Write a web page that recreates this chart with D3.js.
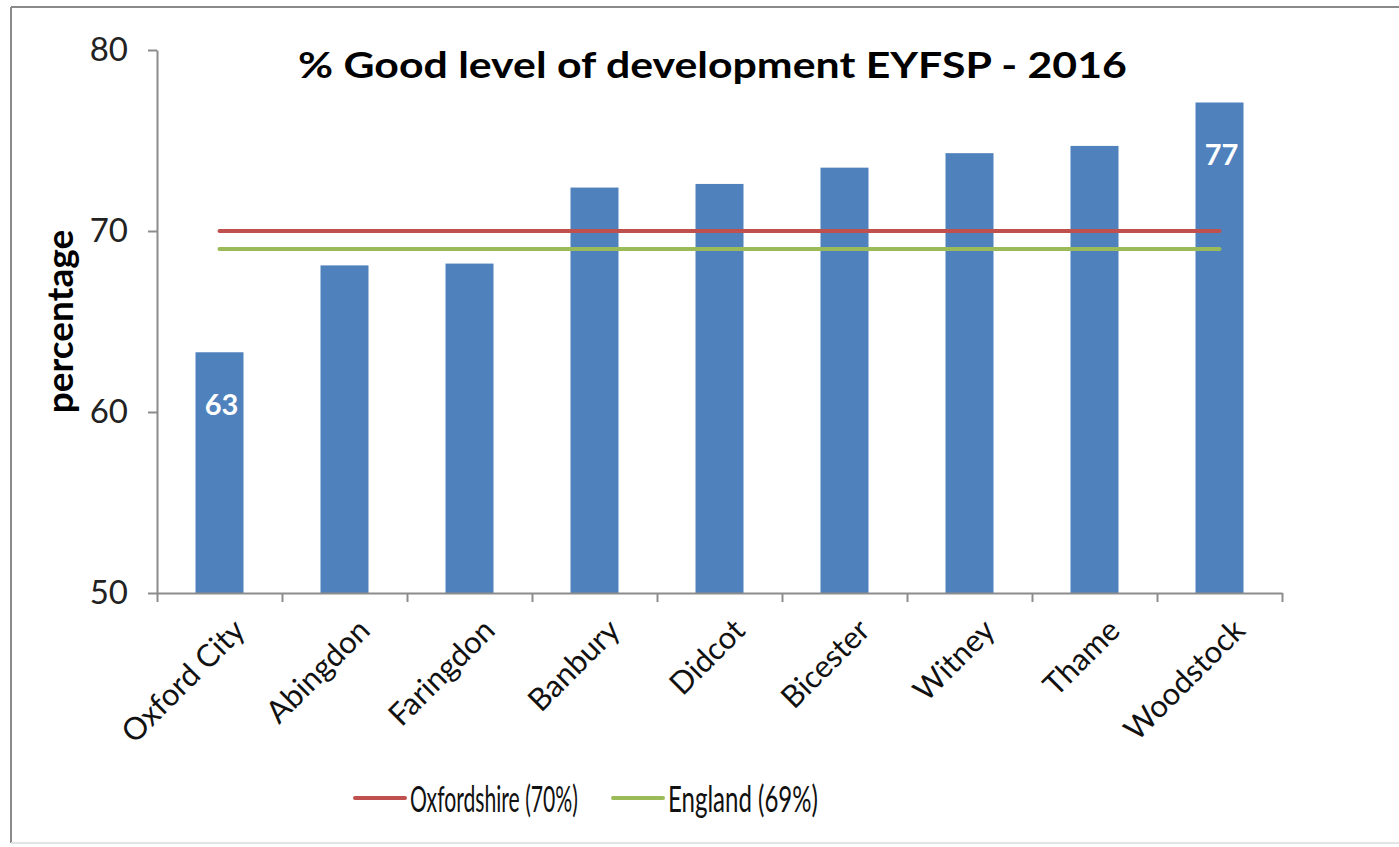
<!DOCTYPE html>
<html>
<head>
<meta charset="utf-8">
<script src="https://cdn.jsdelivr.net/npm/d3@7"></script>
<style>
  body { margin: 0; background: #fff; }
  svg text { font-family: Lato, "Open Sans", sans-serif; }
</style>
</head>
<body>
<div id="chart"></div>
<script>
// data
var towns = ["Oxford City", "Abingdon", "Faringdon", "Banbury", "Didcot", "Bicester", "Witney", "Thame", "Woodstock"]
var gld = [63.3, 68.1, 68.2, 72.4, 72.6, 73.5, 74.3, 74.7, 77.1]
var labelledTowns = ["Oxford City", "Woodstock"]

var refNames = ["Oxfordshire (70%)", "England (69%)"]
var refValues = [70, 69]
var refColors = ["#C0504D", "#9BBB59"]

var yTicks = [50, 60, 70, 80]
var title = "% Good level of development EYFSP - 2016"

// squeeze a text sideways so it spans the given width (the picture's fonts are narrow)
var squeeze = function(sel, x, y, width)
{
    sel.each(function()
    {
        var w = this.getComputedTextLength()
        d3.select(this).attr("transform", "translate(" + x + "," + y + ") scale(" + (width / w) + ",1)")
    })
}

var setup = function()
{
    var screen = {width: 1399, height: 847}
    var plot = {left: 157, right: 1282, top: 50, bottom: 593}

    var svg = d3.select("#chart")
    .append("svg")
    .attr("width", screen.width)
    .attr("height", screen.height)

    // outer frame
    svg.append("line").attr("x1", 11).attr("x2", screen.width).attr("y1", 7).attr("y2", 7)
    .attr("stroke", "#8a8a8a").attr("stroke-width", 2)
    svg.append("line").attr("x1", 11).attr("x2", 11).attr("y1", 7).attr("y2", 843)
    .attr("stroke", "#8a8a8a").attr("stroke-width", 2)
    svg.append("line").attr("x1", 11).attr("x2", screen.width).attr("y1", 843).attr("y2", 843)
    .attr("stroke", "#e4e4e4").attr("stroke-width", 2)

    //scales
    var xScale = d3.scaleBand()
    .domain(towns)
    .range([plot.left, plot.right])
    .paddingInner(0.616)
    .paddingOuter(0.308)

    var yScale = d3.scaleLinear()
    .domain([50, 80])
    .range([plot.bottom, plot.top])

    // bars
    svg.append("g")
    .selectAll("rect")
    .data(towns)
    .enter()
    .append("rect")
    .attr("x", function(d) { return xScale(d) })
    .attr("width", xScale.bandwidth())
    .attr("y", function(d, i) { return yScale(gld[i]) })
    .attr("height", function(d, i) { return yScale(50) - yScale(gld[i]) })
    .attr("fill", "#4F81BD")

    // labels on min and max bars
    svg.append("g")
    .selectAll("text")
    .data(towns.filter(function(d) { return labelledTowns.indexOf(d) >= 0 }))
    .enter()
    .append("text")
    .attr("x", function(d) { return xScale(d) + xScale.bandwidth() / 2 + 2 })
    .attr("y", function(d) { return yScale(gld[towns.indexOf(d)]) + 63 })
    .attr("text-anchor", "middle")
    .attr("fill", "#fff")
    .style("font-weight", "bold")
    .style("font-size", "29px")
    .text(function(d) { return d3.format(".0f")(gld[towns.indexOf(d)]) })

    // reference lines, from first to last bar centre
    var x0 = xScale(towns[0]) + xScale.bandwidth() / 2
    var x1 = xScale(towns[towns.length - 1]) + xScale.bandwidth() / 2
    svg.append("g")
    .selectAll("line")
    .data(refValues)
    .enter()
    .append("line")
    .attr("x1", x0)
    .attr("x2", x1)
    .attr("y1", function(d) { return yScale(d) })
    .attr("y2", function(d) { return yScale(d) })
    .attr("stroke", function(d, i) { return refColors[i] })
    .attr("stroke-width", 4)
    .attr("stroke-linecap", "round")

    //axes
    var yAxis = d3.axisLeft(yScale)
    .tickValues(yTicks)
    .tickSize(9)
    .tickSizeOuter(0)
    .tickPadding(20)

    var yG = svg.append("g")
    .attr("transform", "translate(" + plot.left + ",0)")
    .call(yAxis)
    yG.selectAll("path, line").attr("stroke", "#8c8c8c").attr("stroke-width", 2)
    yG.selectAll("text").style("font-size", "33px").style("font-family", "Lato, sans-serif").attr("fill", "#222")

    // boundary ticks like excel
    var edgeScale = d3.scaleLinear().domain([0, towns.length]).range([plot.left, plot.right])
    var xAxis = d3.axisBottom(edgeScale)
    .ticks(towns.length)
    .tickSize(9)
    .tickSizeOuter(0)
    .tickFormat("")

    var xG = svg.append("g")
    .attr("transform", "translate(0," + plot.bottom + ")")
    .call(xAxis)
    xG.selectAll("path, line").attr("stroke", "#8c8c8c").attr("stroke-width", 2)

    // rotated category names
    svg.append("g")
    .selectAll("text")
    .data(towns)
    .enter()
    .append("text")
    .attr("transform", function(d)
    {
        var cx = xScale(d) + xScale.bandwidth() / 2 + 12
        return "translate(" + cx + "," + (plot.bottom + 24) + ") rotate(-45)"
    })
    .attr("text-anchor", "end")
    .attr("dy", "0.7em")
    .style("font-size", "31px")
    .attr("fill", "#111")
    .text(function(d) { return d })

    // y title
    svg.append("text")
    .attr("transform", "translate(73," + ((plot.top + plot.bottom) / 2) + ") rotate(-90)")
    .attr("text-anchor", "middle")
    .style("font-weight", "bold")
    .style("font-size", "37px")
    .text("percentage")

    // chart title
    svg.append("text")
    .style("font-weight", "bold")
    .style("font-size", "36px")
    .text(title)
    .call(squeeze, 298, 78, 829)

    // legend
    var legendX = [355, 613]
    var textWidth = [168, 150]
    var leg = svg.append("g")
    .selectAll("g")
    .data(refNames)
    .enter()
    .append("g")
    .attr("transform", function(d, i) { return "translate(" + legendX[i] + ",798)" })

    leg.append("line")
    .attr("x1", 0).attr("x2", 50)
    .attr("stroke", function(d, i) { return refColors[i] })
    .attr("stroke-width", 4)
    .attr("stroke-linecap", "round")

    leg.append("text")
    .style("font-size", "37px")
    .attr("fill", "#111")
    .text(function(d) { return d })
    .each(function(d, i) { d3.select(this).call(squeeze, 55, 14, textWidth[i]) })
}

setup()
</script>
</body>
</html>
